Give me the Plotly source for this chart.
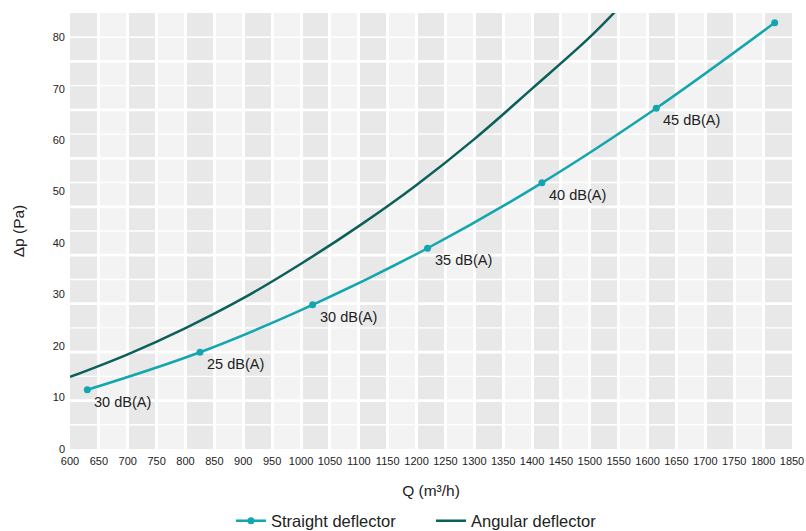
import plotly.graph_objects as go

# Data
straight_q = [630, 825, 1020, 1219, 1417, 1615, 1820]
straight_dp = [11.5, 18.8, 28.0, 39.0, 51.7, 66.2, 82.8]
straight_labels = ["30 dB(A)", "25 dB(A)", "30 dB(A)", "35 dB(A)", "40 dB(A)", "45 dB(A)", ""]

angular_q = [600, 700, 800, 900, 1000, 1100, 1200, 1300, 1400, 1500, 1550]
angular_dp = [14.0, 18.4, 23.5, 29.3, 36.0, 43.3, 51.3, 60.2, 70.0, 80.0, 85.7]

x_ticks = list(range(600, 1851, 50))
y_ticks = list(range(0, 81, 10))

STRAIGHT = "#13a6ae"
ANGULAR = "#0c605b"
FONT = "Liberation Sans, Arial, sans-serif"
TXT = "#222222"

fig = go.Figure()
fig.add_trace(go.Scatter(
    x=straight_q, y=straight_dp, mode="lines+markers", name="Straight deflector",
    line=dict(color=STRAIGHT, width=2.5, shape="spline"),
    marker=dict(color=STRAIGHT, size=7),
))
fig.add_trace(go.Scatter(
    x=angular_q, y=angular_dp, mode="lines", name="Angular deflector",
    line=dict(color=ANGULAR, width=2.5, shape="spline"),
))

for q, dp, lab in zip(straight_q, straight_dp, straight_labels):
    if lab:
        fig.add_annotation(x=q, y=dp, text=lab, showarrow=False, xanchor="left",
                           yanchor="middle", xshift=5, yshift=-12,
                           font=dict(size=14.5, color=TXT, family=FONT))

shapes = []
# alternating vertical stripes
for i, x0 in enumerate(x_ticks[:-1]):
    if i % 2 == 0:
        shapes.append(dict(type="rect", xref="x", yref="y domain", x0=x0, x1=x0 + 50,
                           y0=0, y1=1, fillcolor="#e8e8e8", line=dict(width=0), layer="below"))
# decorative horizontal grid (18 rows)
for k in range(1, 18):
    shapes.append(dict(type="line", xref="x domain", yref="y domain", x0=0, x1=1,
                       y0=k / 18, y1=k / 18,
                       line=dict(color="white", width=2.7 if k % 2 == 0 else 1.4),
                       layer="below"))

fig.update_layout(
    width=806, height=531,
    margin=dict(l=70, r=14, t=13, b=82, autoexpand=False),
    paper_bgcolor="white", plot_bgcolor="#f3f3f3",
    font=dict(family=FONT, color=TXT),
    shapes=shapes,
    showlegend=True,
    legend=dict(orientation="h", xanchor="left", x=(231 - 70) / 722, yanchor="middle",
                y=-(521 - 449) / 436, entrywidth=155,
                font=dict(size=16.5, color=TXT, family=FONT), itemwidth=30,
                bgcolor="rgba(0,0,0,0)"),
    xaxis=dict(range=[600, 1850], tickvals=x_ticks, showgrid=True, gridcolor="white",
               gridwidth=3, zeroline=False, showline=False, ticks="", automargin=False,
               ticklabelstandoff=4, tickfont=dict(size=11, color=TXT),
               title=dict(text="Q (m³/h)", font=dict(size=15.5, color=TXT), standoff=19)),
    yaxis=dict(range=[0, 84.7], tickvals=y_ticks, showgrid=False, zeroline=False,
               showline=False, ticks="", automargin=False, ticklabelstandoff=4,
               tickfont=dict(size=11, color=TXT),
               title=dict(text="Δp (Pa)", font=dict(size=15.5, color=TXT), standoff=24)),
)

fig.write_html("out.html", config={"displayModeBar": False},
               post_script="document.body.style.margin='0';document.body.style.overflow='hidden';")
